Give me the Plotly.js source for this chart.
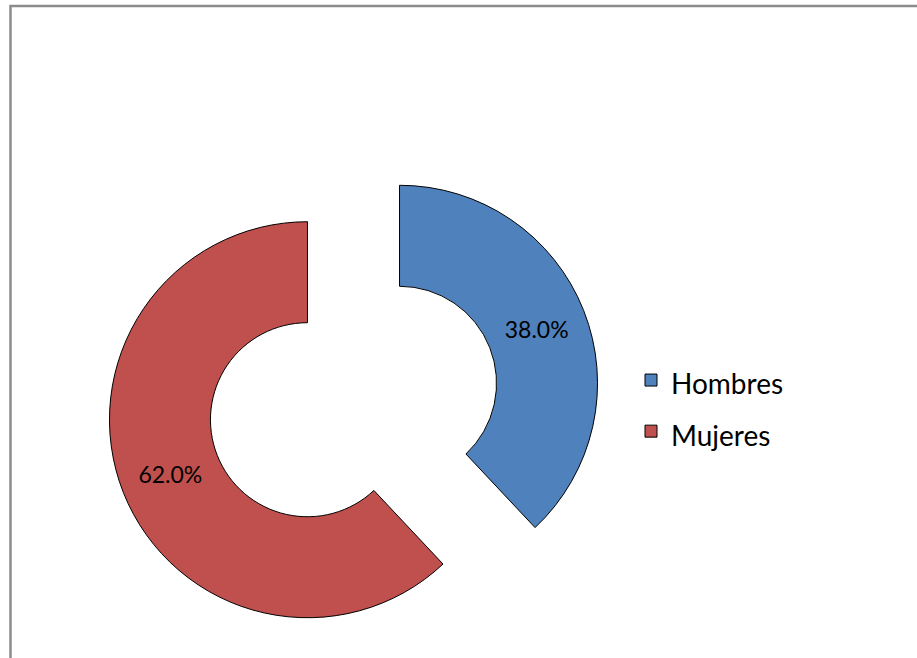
<!DOCTYPE html>
<html>
<head>
<meta charset="utf-8">
<script src="https://cdn.plot.ly/plotly-3.0.1.min.js"></script>
<style>html,body{margin:0;padding:0;background:#fff;}#chart{width:917px;height:658px;}</style>
</head>
<body>
<div id="chart"></div>
<script>
const categories = ["Hombres", "Mujeres"];
const shares = [38.0, 62.0];
const sliceColors = ["#4F81BD", "#C0504D"];

const W = 917, H = 658;
// legend line height is driven by legend.font.size; the visible text is sized by the span
const legendLabels = categories.map(c => '<span style="font-size:28px">' + c + '</span>');

const trace = {
  type: "pie",
  labels: legendLabels,
  values: shares,
  sort: false,
  direction: "clockwise",
  rotation: 0,
  hole: 0.49,
  pull: [0.25, 0.25],
  marker: { colors: sliceColors, line: { color: "#000000", width: 1 } },
  texttemplate: "%{percent:.1%}",
  textposition: "inside",
  insidetextorientation: "horizontal",
  insidetextfont: { family: "Lato, sans-serif", size: 23, color: "#000000" },
  hoverinfo: "label+percent",
  domain: { x: [106 / W, 601 / W], y: [9 / H, 504 / H] }
};

const layout = {
  width: W, height: H,
  margin: { l: 0, r: 0, t: 0, b: 0 },
  paper_bgcolor: "#ffffff",
  showlegend: true,
  legend: {
    x: 631 / W, xanchor: "left",
    y: 1 - 406 / H, yanchor: "middle",
    font: { family: "Lato, sans-serif", size: 37, color: "#000000" },
    bgcolor: "rgba(0,0,0,0)"
  },
  shapes: [{
    type: "rect", xref: "paper", yref: "paper",
    x0: 10.5 / W, x1: 1.2, y0: -0.2, y1: 1 - 6 / H,
    line: { color: "#8c8c8c", width: 2.5 },
    fillcolor: "rgba(0,0,0,0)"
  }]
};

Plotly.newPlot("chart", [trace], layout, { displayModeBar: false });
</script>
</body>
</html>
